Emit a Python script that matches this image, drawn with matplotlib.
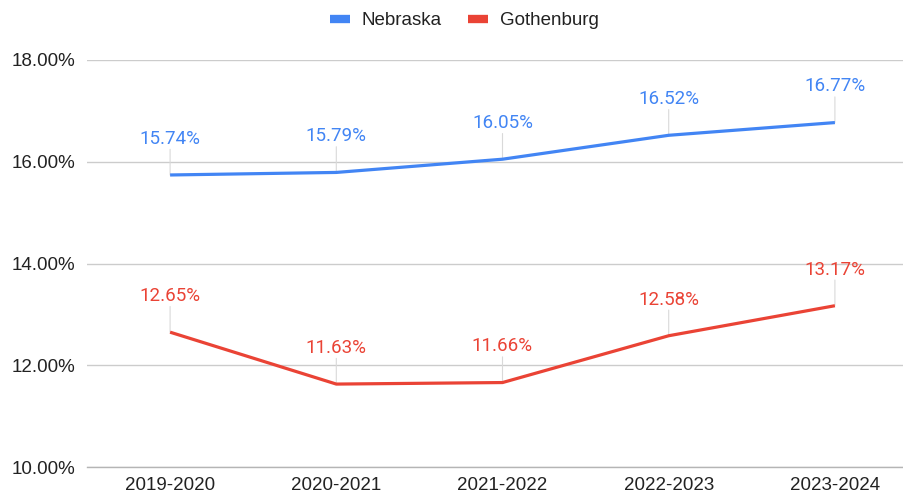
import matplotlib.pyplot as plt
from matplotlib.lines import Line2D

years = ["2019-2020", "2020-2021", "2021-2022", "2022-2023", "2023-2024"]
nebraska = [15.74, 15.79, 16.05, 16.52, 16.77]
gothenburg = [12.65, 11.63, 11.66, 12.58, 13.17]
y_ticks = [10, 12, 14, 16, 18]

BLUE = "#4285F4"
RED = "#EA4335"

fig = plt.figure(figsize=(9.04, 4.93), dpi=100)
ax = fig.add_axes([87 / 904, 26 / 493, 831 / 904, 407 / 493])

x = list(range(len(years)))
ax.set_xlim(-0.5, len(years) - 0.5)
ax.set_ylim(10, 18)

ax.set_yticks(y_ticks)
ax.set_yticklabels([f"{t:.2f}%" for t in y_ticks], fontsize=13.5,
                   family="Liberation Sans", color="#222222")
ax.set_xticks(x)
ax.set_xticklabels(years, fontsize=13.5, family="Liberation Sans", color="#222222")
ax.tick_params(axis="y", length=0, pad=8.5)
ax.tick_params(axis="x", length=0, pad=7)

ax.grid(axis="y", color="#cccccc", lw=1)
ax.set_axisbelow(True)
for s in ["top", "right", "left"]:
    ax.spines[s].set_visible(False)
ax.spines["bottom"].set_color("#b5b5b5")
ax.spines["bottom"].set_linewidth(1)

for vals, col in [(nebraska, BLUE), (gothenburg, RED)]:
    ax.plot(x, vals, color=col, lw=2.3, solid_capstyle="butt", zorder=3)
    for xi, v in zip(x, vals):
        ax.annotate("", xy=(xi, v), xytext=(0, 18.5), textcoords="offset points",
                    arrowprops=dict(arrowstyle="-", color="#d9d9d9", lw=0.8,
                                    shrinkA=0, shrinkB=0), zorder=2)
        ax.annotate(f"{v:.2f}%", xy=(xi, v), xytext=(0, 26), textcoords="offset points",
                    ha="center", va="center", fontsize=13.5, family="Roboto",
                    color=col, zorder=4)

handles = [Line2D([], [], color=BLUE, lw=6, solid_capstyle="butt"),
           Line2D([], [], color=RED, lw=6, solid_capstyle="butt")]
fig.legend(handles, ["Nebraska", "Gothenburg"], loc="center",
           bbox_to_anchor=(464.5 / 904, 1 - 20.5 / 493), ncol=2, frameon=False,
           prop={"family": "Liberation Sans", "size": 13.5}, labelcolor="#222222",
           handlelength=1.07, handletextpad=0.64, columnspacing=1.4)

fig.savefig("out.png", dpi=100)
